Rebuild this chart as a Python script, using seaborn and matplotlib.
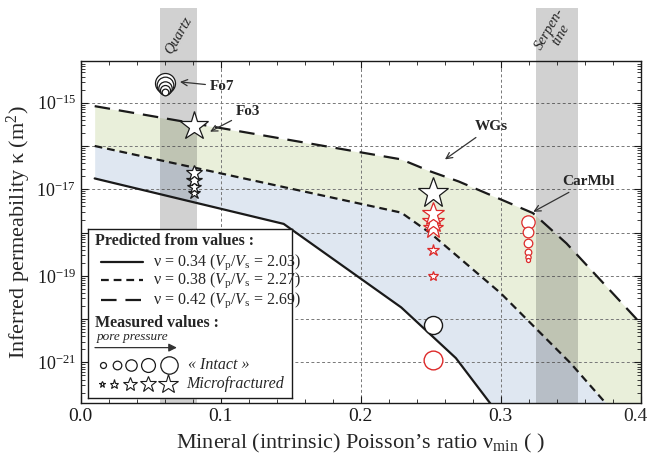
import numpy as np
import matplotlib
matplotlib.use("Agg")
import matplotlib.pyplot as plt
import seaborn as sns
from matplotlib.ticker import FixedLocator, FuncFormatter, MultipleLocator, LogLocator, NullFormatter

# predicted curves : log10(permeability) vs mineral poisson ratio
nu_034 = [0.01, 0.145, 0.229, 0.268, 0.295, 0.31]
k_034 = [-16.75, -17.80, -19.73, -20.90, -22.05, -22.6]
nu_038 = [0.01, 0.229, 0.25, 0.30, 0.35, 0.375, 0.39]
k_038 = [-16.00, -17.54, -18.02, -19.40, -21.02, -21.94, -22.5]
nu_042 = [0.01, 0.229, 0.25, 0.27, 0.323, 0.347, 0.40]
k_042 = [-15.08, -16.31, -16.59, -16.82, -17.55, -18.25, -20.1]
line_labels = [r"ν = 0.34 ($\mathit{V}_\mathregular{p}$/$\mathit{V}_\mathregular{s}$ = 2.03)",
               r"ν = 0.38 ($\mathit{V}_\mathregular{p}$/$\mathit{V}_\mathregular{s}$ = 2.27)",
               r"ν = 0.42 ($\mathit{V}_\mathregular{p}$/$\mathit{V}_\mathregular{s}$ = 2.69)"]

# mineral bands
quartz = [0.057, 0.083]
serpentine = [0.325, 0.355]

# measured values (log10 k), marker sizes grow with pore pressure
fo7_nu = 0.060
fo7_k = [-14.55, -14.60, -14.65, -14.70, -14.75]
fo7_ms = [14.4, 12.0, 9.6, 7.2, 4.8]
fo3_nu = 0.081
fo3_big_k = -15.54
fo3_k = [-17.09, -16.94, -16.79, -16.63]
fo3_ms = [8.8, 9.9, 11.4, 12.0]
wgs_nu = 0.252
wgs_black_star_k = -17.09
wgs_red_star_k = [-19.0, -18.40, -17.90, -17.75, -17.57]
wgs_red_star_ms = [7.5, 9.0, 15.5, 16.5, 17.0]
wgs_black_circle_k = -20.13
wgs_red_circle_k = -20.94
carmbl_nu = 0.3197
carmbl_k = [-17.76, -17.99, -18.23, -18.44, -18.56, -18.63]
carmbl_ms = [9.6, 7.7, 6.2, 4.8, 3.8, 2.9]

red = "#dd2a2a"

sns.set_theme(style="ticks")
plt.rcParams["font.family"] = ["Liberation Serif", "DejaVu Serif"]
plt.rcParams["mathtext.fontset"] = "custom"
plt.rcParams["mathtext.rm"] = "Liberation Serif"
plt.rcParams["mathtext.it"] = "Liberation Serif:italic"
plt.rcParams["mathtext.bf"] = "Liberation Serif:bold"

fig = plt.figure(figsize=(6.48, 4.65), dpi=100)
ax = fig.add_axes([0.1245, 0.134, 0.8642, 0.7355])
ax.set_yscale("log")
ax.set_xlim(0, 0.4)
ax.set_ylim(10 ** -21.93, 10 ** -14.03)

# shaded areas between predictions
xg = np.linspace(0.01, 0.4, 500)
lo = np.interp(xg, nu_034, k_034)
mid = np.interp(xg, nu_038, k_038)
hi = np.interp(xg, nu_042, k_042)
ax.fill_between(xg, 10 ** mid, 10 ** hi, color="#e9efda", lw=0, zorder=1)
ax.fill_between(xg, 10 ** lo, 10 ** mid, color="#dfe7f1", lw=0, zorder=1)

# lines
styles = ["-", (0, (3.5, 2.2)), (0, (7, 4))]
for nu, k, ls in zip([nu_034, nu_038, nu_042], [k_034, k_038, k_042], styles):
    sns.lineplot(x=nu, y=10 ** np.array(k), ax=ax, color="k", lw=1.6,
                 linestyle=ls, estimator=None, sort=False, zorder=2)

# mineral bands (go above the frame)
for band in [quartz, serpentine]:
    ax.axvspan(band[0], band[1], ymin=0, ymax=1.154, color="k", alpha=0.2,
               lw=0, clip_on=False, zorder=1.7)
ax.text(np.mean(quartz) - 0.0005, 1.075, "Quartz", transform=ax.get_xaxis_transform(),
        rotation=60, style="italic", fontsize=10.5, ha="center", va="center")
ax.text(np.mean(serpentine) - 0.001, 1.085, "Serpen-\ntine", transform=ax.get_xaxis_transform(),
        rotation=60, style="italic", fontsize=10.5, ha="center", va="center",
        linespacing=0.95, multialignment="center")

# measured points
for k, ms in zip(fo7_k, fo7_ms):
    ax.plot(fo7_nu, 10 ** k, "o", ms=ms, mfc="white", mec="k", mew=0.9, zorder=4)
ax.plot(fo3_nu, 10 ** fo3_big_k, "*", ms=21.6, mfc="white", mec="k", mew=0.9, zorder=4)
for k, ms in zip(fo3_k, fo3_ms):
    ax.plot(fo3_nu, 10 ** k, "*", ms=ms, mfc="white", mec="k", mew=0.9, zorder=4)
ax.plot(wgs_nu, 10 ** wgs_black_star_k, "*", ms=23, mfc="white", mec="k", mew=0.9, zorder=4)
for k, ms in zip(wgs_red_star_k, wgs_red_star_ms):
    ax.plot(wgs_nu, 10 ** k, "*", ms=ms, mfc="white", mec=red, mew=0.9, zorder=4)
ax.plot(wgs_nu, 10 ** wgs_black_circle_k, "o", ms=13, mfc="white", mec="k", mew=1.0, zorder=4)
ax.plot(wgs_nu, 10 ** wgs_red_circle_k, "o", ms=13.5, mfc="white", mec=red, mew=1.0, zorder=4)
for k, ms in zip(carmbl_k, carmbl_ms):
    ax.plot(carmbl_nu, 10 ** k, "o", ms=ms, mfc="white", mec=red, mew=0.9, zorder=4)

# annotations
arr = dict(arrowstyle="->", color="#333333", lw=0.9, shrinkA=1, shrinkB=0)
ax.annotate("Fo7", xy=(0.0709, 10 ** -14.52), xytext=(0.0924, 10 ** -14.62),
            fontsize=11, weight="bold", ha="left", va="center", arrowprops=arr, zorder=5)
ax.annotate("Fo3", xy=(0.0924, 10 ** -15.67), xytext=(0.111, 10 ** -15.21),
            fontsize=11, weight="bold", ha="left", va="center", arrowprops=arr, zorder=5)
ax.annotate("WGs", xy=(0.2602, 10 ** -16.31), xytext=(0.293, 10 ** -15.56),
            fontsize=11, weight="bold", ha="center", va="center", arrowprops=arr, zorder=5)
ax.annotate("CarMbl", xy=(0.3233, 10 ** -17.52), xytext=(0.3624, 10 ** -16.83),
            fontsize=11, weight="bold", ha="center", va="center", arrowprops=arr, zorder=5)

# ticks and grid
ax.xaxis.set_major_locator(MultipleLocator(0.1))
ax.xaxis.set_minor_locator(MultipleLocator(0.02))
# the 0.4 label is drawn separately, nudged left so it stays inside the figure
ax.xaxis.set_major_formatter(FuncFormatter(lambda v, p: "" if v > 0.35 else f"{v:.1f}"))
ax.annotate("0.4", xy=(0.4, 0), xycoords=ax.get_xaxis_transform(), xytext=(-4, -3.5),
            textcoords="offset points", ha="center", va="top", fontsize=14)
ax.yaxis.set_major_locator(FixedLocator(10.0 ** np.arange(-22, -13)))
ax.yaxis.set_major_formatter(FuncFormatter(
    lambda v, p: (r"$\mathregular{10^{%d}}$" % round(np.log10(v))) if round(np.log10(v)) % 2 else ""))
ax.yaxis.set_minor_locator(LogLocator(base=10, subs=np.arange(2, 10), numticks=20))
ax.yaxis.set_minor_formatter(NullFormatter())
ax.tick_params(which="both", direction="in", top=True, right=True, colors="k")
ax.tick_params(axis="x", labelsize=14)
ax.tick_params(axis="y", labelsize=13)
ax.tick_params(which="major", length=5, width=0.8)
ax.tick_params(which="minor", length=3, width=0.6)
ax.grid(True, which="major", color="#777777", ls=(0, (3, 2.5)), lw=0.7)
ax.set_axisbelow("line")
for s in ax.spines.values():
    s.set_color("k")
    s.set_linewidth(1.0)
ax.set_facecolor("white")

ax.set_xlabel(r"Mineral (intrinsic) Poisson’s ratio ν$_\mathregular{min}$ ( )", fontsize=16, labelpad=5)
ax.set_ylabel(r"Inferred permeability κ (m$^\mathregular{2}$)", fontsize=16, labelpad=2)

# custom legend box (pixel-like units inside)
lg = ax.inset_axes([0.013, 0.014, 0.364, 0.494])
lg.set_zorder(6)
lg.set_xlim(0, 204)
lg.set_ylim(169, 0)
lg.set_xticks([])
lg.set_yticks([])
lg.set_facecolor("white")
for s in lg.spines.values():
    s.set_color("k")
    s.set_linewidth(1.0)
lg.text(7, 11.7, "Predicted from values :", fontsize=11.5, weight="bold", va="center")
for yy, ls, lab in zip([33.3, 51, 71], styles, line_labels):
    lg.plot([12.7, 54.7], [yy, yy], color="k", lw=1.6, linestyle=ls)
    lg.text(64.7, yy, lab, fontsize=11.5, va="center")
lg.text(7, 94.3, "Measured values :", fontsize=11.5, weight="bold", va="center")
lg.text(9, 108.3, "pore pressure", fontsize=9.5, style="italic", va="center")
lg.annotate("", xy=(89, 118.7), xytext=(7, 118.7),
            arrowprops=dict(arrowstyle="-|>", color="#333333", lw=0.9, shrinkA=0, shrinkB=0))
for xx, ms in zip([14.7, 28.7, 43, 60.3, 81.3], [4.3, 6.2, 8.2, 10, 12.5]):
    lg.plot(xx, 136, "o", ms=ms, mfc="white", mec="k", mew=0.9)
lg.text(100.3, 136, "« Intact »", fontsize=11.5, style="italic", va="center")
for xx, ms in zip([14.3, 25.7, 42, 60.3, 80.3], [4.5, 6.8, 10, 12, 15]):
    lg.plot(xx, 155.3, "*", ms=ms, mfc="white", mec="k", mew=0.8)
lg.text(98, 155.3, "Microfractured", fontsize=11.5, style="italic", va="center")

fig.savefig("out.png", dpi=100)
